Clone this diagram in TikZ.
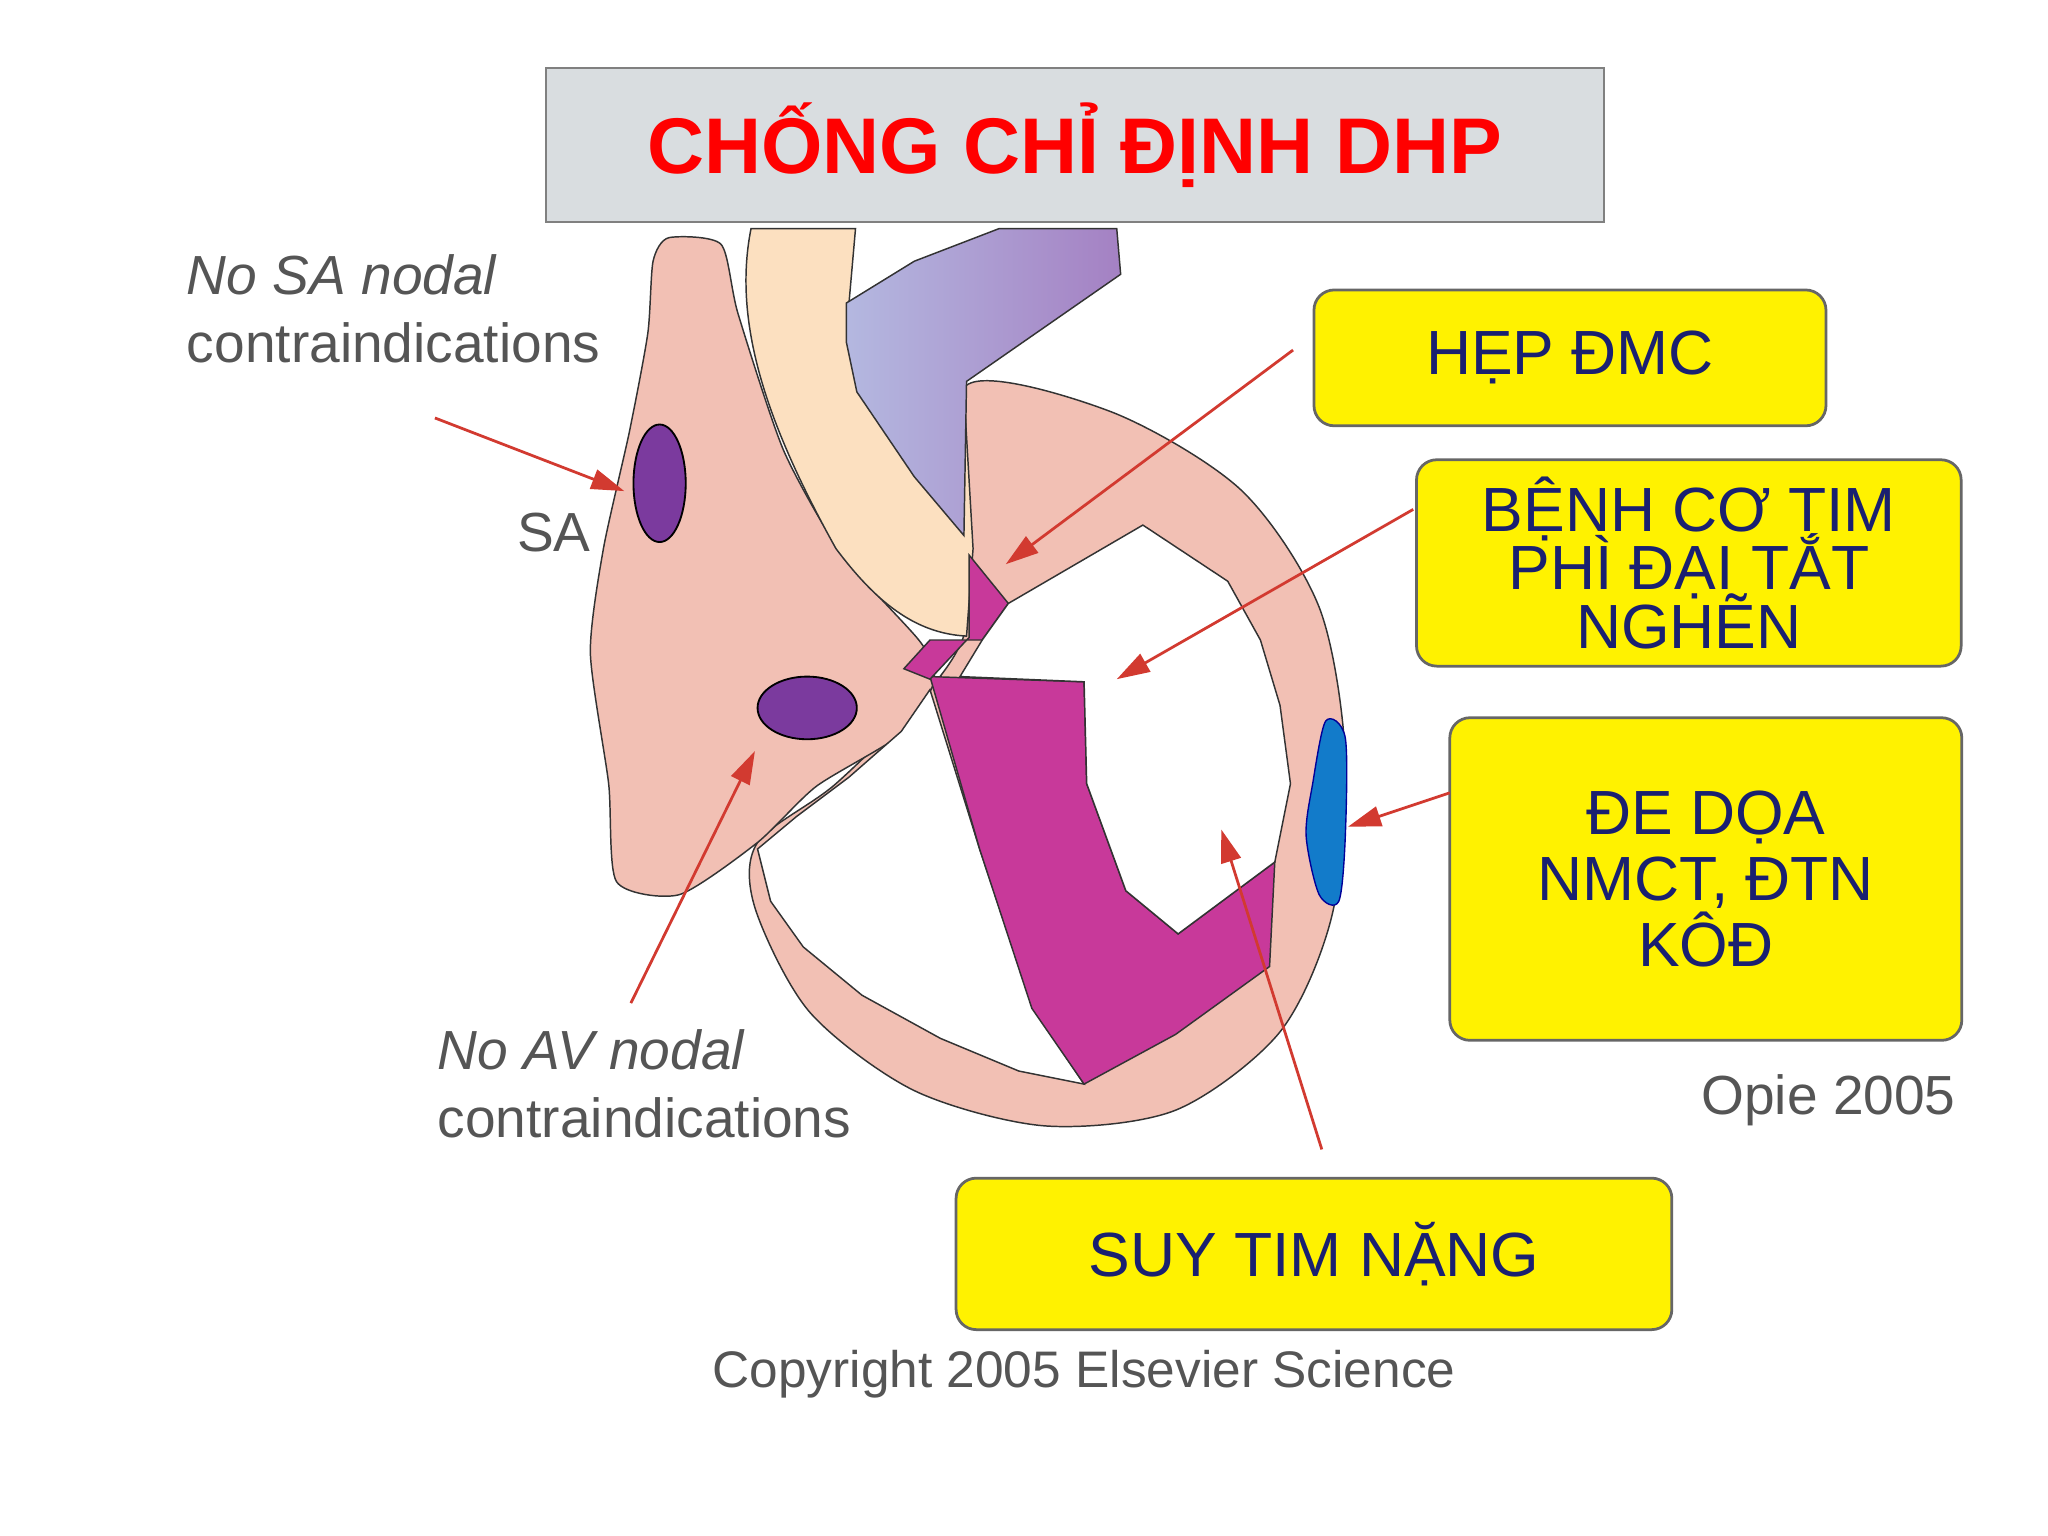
\documentclass[tikz,border=0pt]{standalone}
\usepackage{fontspec}
\setmainfont{Liberation Sans}
\usetikzlibrary{arrows.meta}
\definecolor{pinkh}{HTML}{F2C0B4}
\definecolor{creamh}{HTML}{FCE0C0}
\definecolor{blueh}{HTML}{B4B8E0}
\definecolor{magh}{HTML}{C8399A}
\definecolor{ovalh}{HTML}{7B3A9E}
\definecolor{arrowh}{HTML}{D23A30}
\definecolor{navyh}{HTML}{1A2070}
\definecolor{grayt}{HTML}{555555}
\definecolor{titlebg}{HTML}{D9DDE0}
\tikzset{
 ybox/.style={draw=gray!80!black,line width=3pt,fill=yellow,rounded corners=22pt,text=navyh,font=\fontsize{68}{76}\selectfont,align=center,inner sep=0pt},
 redarrow/.style={draw=arrowh,line width=3pt,-{Triangle[length=36pt,width=22pt]}},
 graytxt/.style={text=grayt,font=\fontsize{60}{74}\selectfont,align=left,inner sep=0pt},
 outl/.style={draw=black!80,line width=1.6pt}
}
\begin{document}
\begin{tikzpicture}[x=0.05cm,y=-0.05cm]
\useasboundingbox (0,0) rectangle (1568,1176);
\fill[white] (0,0) rectangle (1568,1176);
% left ventricle pink outer
\path[outl,fill=pinkh] plot[smooth cycle,tension=0.5] coordinates{(740,295) (850,315) (950,375) (1010,465) (1030,580) (1020,700) (980,790) (900,850) (800,862) (700,835) (620,775) (578,695) (580,645) (640,600) (710,530) (740,480) (742,400)};
% right atrium
\path[outl,fill=pinkh] plot[smooth cycle,tension=0.4] coordinates{(512,182) (552,187) (565,240) (600,345) (645,425) (705,492) (715,522) (690,562) (625,602) (580,645) (520,685) (472,675) (466,600) (452,500) (462,420) (482,330) (496,255) (500,200)};
% aorta cream
\path[outl,fill=creamh] (575,175) .. controls (560,250) and (590,330) .. (640,420) .. controls (670,460) and (700,485) .. (740,487) -- (745,420) -- (738,300) -- (650,232) -- (655,175) -- cycle;
% pulmonary
\path[outl,shading=axis,left color=blueh,right color=blueh!70!violet] (648,232) -- (700,200) -- (765,175) -- (855,175) -- (858,210) -- (740,292) -- (738,410) -- (700,365) -- (656,300) -- (648,262) -- cycle;
% right ventricle white cavity
\path[outl,fill=white] (580,650) -- (610,625) -- (650,595) -- (690,560) -- (712,528) -- (750,650) -- (790,770) -- (830,830) -- (780,820) -- (720,795) -- (660,762) -- (615,725) -- (590,690) -- cycle;
% septum magenta
\path[outl,fill=magh] (712,518) -- (830,522) -- (832,600) -- (862,682) -- (902,715) -- (976,660) -- (972,740) -- (900,792) -- (830,830) -- (790,772) -- (750,650) -- cycle;
% small magenta near valve
\path[outl,fill=magh] (742,425) -- (772,462) -- (752,490) -- (712,490) -- (692,512) -- (712,520) -- (742,488) -- cycle;
% LV white cavity
\path[outl,fill=white] (772,462) -- (875,402) -- (940,445) -- (965,490) -- (980,540) -- (988,600) -- (976,660) -- (902,715) -- (862,682) -- (832,600) -- (830,522) -- (735,518) -- (752,490) -- cycle;
% blue patch
\path[draw=blue!60!black,line width=1.5pt,fill=cyan!60!blue] plot[smooth cycle] coordinates{(1015,552) (1030,565) (1030,640) (1025,690) (1010,685) (1000,640) (1005,600)};
% ovals
\path[draw=black,line width=2pt,fill=ovalh] (505,370) ellipse[x radius=20,y radius=45];
\path[draw=black,line width=2pt,fill=ovalh] (618,542) ellipse[x radius=38,y radius=24];
% title
\node[draw=gray,line width=3pt,fill=titlebg,minimum width=810*0.05cm,minimum height=118*0.05cm,text=red,font=\bfseries\fontsize{86}{96}\selectfont] (title) at (823,111) {CHỐNG CHỈ ĐỊNH DHP};
% yellow boxes
\node[ybox,minimum width=392*0.05cm,minimum height=104*0.05cm] (hep) at (1202,274) {HẸP ĐMC};
\node[ybox,minimum width=417*0.05cm,minimum height=158*0.05cm] (benh) at (1293,431) {BỆNH CƠ TIM\\[-12pt]PHÌ ĐẠI TẮT\\[-12pt]NGHẼN};
\node[ybox,minimum width=392*0.05cm,minimum height=247*0.05cm] (doa) at (1306,673) {ĐE DỌA\\[-4pt]NMCT, ĐTN\\[-4pt]KÔĐ};
\node[ybox,minimum width=548*0.05cm,minimum height=116*0.05cm] (suy) at (1006,960) {SUY TIM NẶNG};
% gray texts
\node[graytxt,anchor=north west] (sa) at (143,195) {\textit{No SA nodal}\\contraindications};
\node[graytxt] (salbl) at (424,408) {SA};
\node[graytxt,anchor=north west] (av) at (335,788) {\textit{No AV nodal}\\contraindications};
\node[graytxt] (opie) at (1400,842) {Opie 2005};
\node[graytxt,font=\fontsize{56}{70}\selectfont] (copy) at (830,1052) {Copyright 2005 Elsevier Science};
% targets
\coordinate (t1) at (478,376);
\coordinate (t2) at (578,575);
\coordinate (t3) at (770,432);
\coordinate (t4) at (855,520);
\coordinate (t5) at (1032,633);
\coordinate (t6) at (935,635);
\coordinate (s1) at (333,320);
\coordinate (s2) at (483,768);
\coordinate (s3) at (990,268);
\coordinate (s4) at (1082,390);
\coordinate (s5) at (1110,607);
\coordinate (s6) at (1012,880);
\draw[redarrow] (s1) -- (t1);
\draw[redarrow] (s2) -- (t2);
\draw[redarrow] (s3) -- (t3);
\draw[redarrow] (s4) -- (t4);
\draw[redarrow] (s5) -- (t5);
\draw[redarrow] (s6) -- (t6);
\end{tikzpicture}
\end{document}
